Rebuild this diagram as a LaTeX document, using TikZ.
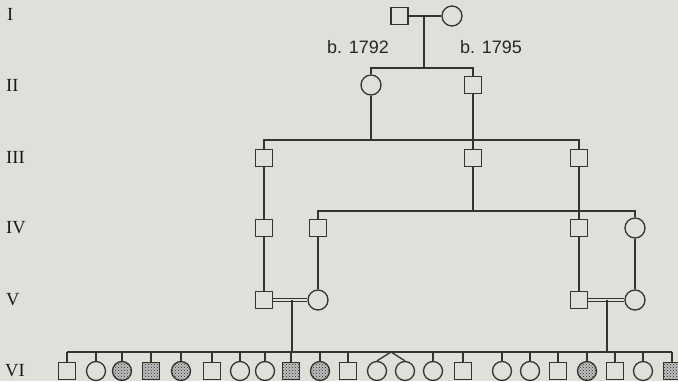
\documentclass[tikz,border=0pt]{standalone}
\usepackage{fontspec}
\setmainfont{Liberation Serif}
\newfontfamily\labelsans{Liberation Sans}
\usetikzlibrary{patterns}
\definecolor{paper}{HTML}{DFE0DA}
\definecolor{ink}{HTML}{36322E}
\tikzset{
  male/.style={rectangle, draw=ink, line width=1.3pt, minimum size=17pt, inner sep=0pt},
  female/.style={circle, draw=ink, line width=1.3pt, minimum size=20pt, inner sep=0pt},
  affected/.style={fill=black!25, postaction={pattern=crosshatch dots, pattern color=black!85}},
  kidm/.style={male},
  kidf/.style={female, minimum size=19pt},
  kidam/.style={male, affected},
  kidaf/.style={female, minimum size=19pt, affected},
  link/.style={draw=ink, line width=1.3pt},
  mating/.style={draw=ink, line width=1pt, double=paper, double distance=1.4pt},
  gen/.style={anchor=west, text=black!90, font=\fontsize{18.5}{20}\selectfont, inner sep=0pt},
  year/.style={text=black!85, font=\labelsans\fontsize{18}{20}\selectfont, inner sep=0pt}
}
\begin{document}
\begin{tikzpicture}[x=1pt, y=-1pt]
\fill[paper] (0,0) rectangle (678,381);
\useasboundingbox (0,0) rectangle (678,381);

% generation numerals
\node[gen] (gI)   at (7,14.5) {I};
\node[gen] (gII)  at (6,85)   {II};
\node[gen] (gIII) at (6,157)  {III};
\node[gen] (gIV)  at (6,228)  {IV};
\node[gen] (gV)   at (6,300)  {V};
\node[gen] (gVI)  at (5,371)  {VI};

% generation I
\node[male]   (s1) at (399.5,16) {};
\node[female] (c1) at (452,16) {};
\coordinate (m1) at (424,16);
\draw[link] (s1) -- (c1);
\node[year] (y1) at (358,47) {b. 1792};
\node[year] (y2) at (491,47) {b. 1795};

% generation II
\node[female] (c2) at (371,85) {};
\node[male]   (s2) at (473,85) {};
\coordinate (k1) at (424,68);
\draw[link] (m1) -- (k1);
\draw[link] (c2.north) |- (k1) -| (s2.north);

% generation III
\node[male] (s3a) at (264,158) {};
\node[male] (s3b) at (473,158) {};
\node[male] (s3c) at (579,158) {};
\coordinate (k2) at (371,140);
\draw[link] (c2) -- (k2);
\draw[link] (s2) -- (s3b);
\draw[link] (s3a.north) |- (k2) -| (s3c.north);

% generation IV
\node[male]   (s4a) at (264,228) {};
\node[male]   (s4b) at (318,228) {};
\node[male]   (s4c) at (579,228) {};
\node[female] (c4d) at (635,228) {};
\coordinate (k3) at (473,211);
\draw[link] (s3a) -- (s4a);
\draw[link] (s3b) -- (k3);
\draw[link] (s4b.north) |- (k3) -| (c4d.north);
\draw[link] (s3c) -- (s4c);

% generation V
\node[male]   (s5a) at (264,300) {};
\node[female] (c5a) at (318,300) {};
\node[male]   (s5b) at (579,300) {};
\node[female] (c5b) at (635,300) {};
\draw[link] (s4a) -- (s5a);
\draw[link] (s4b) -- (c5a);
\draw[link] (s4c) -- (s5b);
\draw[link] (c4d) -- (c5b);
\draw[mating] (s5a) -- (c5a);
\draw[mating] (s5b) -- (c5b);
\coordinate (m5a) at (292,300);
\coordinate (m5b) at (607,300);
\coordinate (k5a) at (292,352);
\coordinate (k5b) at (607,352);
\coordinate (rowL) at (67,352);
\coordinate (rowR) at (672,352);
\draw[link] (m5a) -- (k5a);
\draw[link] (m5b) -- (k5b);
\draw[link] (rowL) -- (rowR);

% generation VI
\foreach \i/\x/\kind in {1/67/kidm, 2/96/kidf, 3/122/kidaf, 4/151/kidam, 5/181/kidaf,
    6/212/kidm, 7/240/kidf, 8/265/kidf, 9/291/kidam, 10/320/kidaf, 11/348/kidm,
    14/433/kidf, 15/463/kidm, 16/502/kidf, 17/530/kidf, 18/558/kidm, 19/587/kidaf,
    20/615/kidm, 21/643/kidf, 22/672/kidam}{
  \node[style/.expanded=\kind] (v\i) at (\x,371) {};
  \draw[link] (v\i.north) -- (v\i.north |- rowL);
}
% twin sisters
\node[kidf] (v12) at (377,371) {};
\node[kidf] (v13) at (405,371) {};
\coordinate (tw) at (391,352);
\draw[link] (v12.north) -- (tw) -- (v13.north);
\end{tikzpicture}
\end{document}
